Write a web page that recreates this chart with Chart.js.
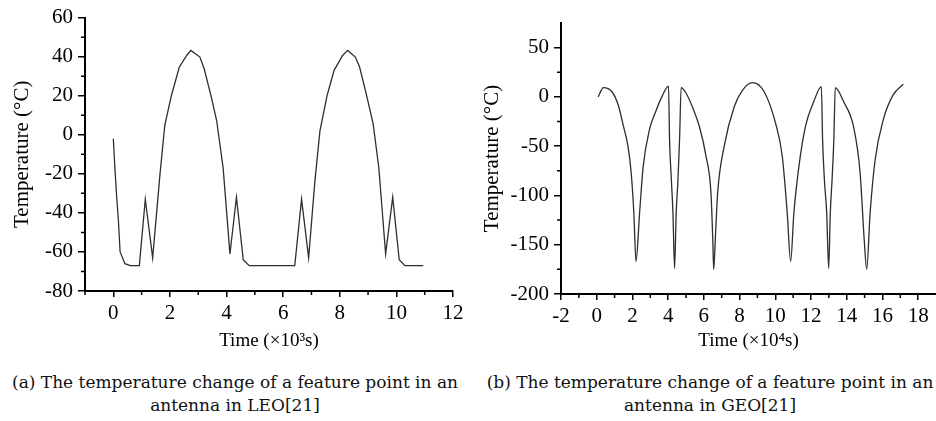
<!DOCTYPE html>
<html>
<head>
<meta charset="utf-8">
<script src="https://cdn.jsdelivr.net/npm/chart.js@4/dist/chart.umd.min.js"></script>
<style>
  body { margin: 0; background: #fff; }
  #wrap { position: relative; width: 936px; height: 421px; overflow: hidden; }
  .box { position: absolute; top: 0; height: 360px; }
  .cap { position: absolute; top: 371px; font: 17px "DejaVu Serif", serif; line-height: 23px; color: #111; text-align: center; white-space: nowrap; }
</style>
</head>
<body>
<div id="wrap">
  <div class="box" style="left:0;width:470px"><canvas id="chartLEO"></canvas></div>
  <div class="box" style="left:470px;width:466px"><canvas id="chartGEO"></canvas></div>
  <div class="cap" style="left:0;width:470px">(a) The temperature change of a feature point in an<br>antenna in LEO[21]</div>
  <div class="cap" style="left:482px;width:456px">(b) The temperature change of a feature point in an<br>antenna in GEO[21]</div>
</div>
<script>
// LEO, time in 10^3 s
const timeLEO = [0, 0.06, 0.12, 0.18, 0.24, 0.41, 0.6, 0.92, 1.13, 1.39, 1.65, 1.82, 2.05, 2.33, 2.59, 2.74, 3.06, 3.21, 3.45, 3.65, 3.88, 4.12, 4.35, 4.59, 4.8,
  6.41, 6.65, 6.9, 7.12, 7.3, 7.55, 7.8, 8.1, 8.28, 8.55, 8.7, 8.95, 9.18, 9.38, 9.62, 9.87, 10.1, 10.3, 10.95];
const tempLEO = [-2, -18, -32, -44, -60, -66, -67, -67, -33, -63, -20, 5, 20, 34.6, 40.6, 43.2, 39.8, 33.8, 20, 7.3, -17, -61, -32, -64, -67,
  -67, -33, -63, -24, 2, 20, 33, 40.6, 43.2, 39.8, 34.7, 20, 5.6, -17, -61, -32, -64, -67, -67];

// GEO, time in 10^4 s
const timeGEO = [0.08, 0.38, 0.84, 1.2, 1.5, 1.75, 1.93, 2.08, 2.2, 2.4, 2.6, 2.97, 3.3, 3.62, 4.02, 4.08, 4.18, 4.27, 4.36, 4.45, 4.55, 4.64, 4.73,
  5.0, 5.4, 5.75, 6.12, 6.4, 6.5, 6.55, 6.64, 6.77, 7.14, 7.7, 8.17, 8.72, 9.37, 10.02, 10.39, 10.67, 10.86, 11.04, 11.32, 11.69, 12.15, 12.58,
  12.65, 12.75, 12.88, 12.99, 13.08, 13.18, 13.28, 13.36, 13.83, 14.38, 14.75, 14.98, 15.12, 15.31, 15.59, 16.05, 16.6, 17.17];
const tempGEO = [0, 9.5, 5.5, -8, -30, -50, -77, -118, -167, -118, -71, -32, -15, -1, 11, -44, -84, -118, -174, -118, -84, -43, 9.5,
  4, -12, -30, -60, -98, -145, -175, -145, -98, -50, -10, 7, 14.5, 5.5, -27, -60, -118, -167, -118, -71, -30, -5, 10.5,
  -44, -84, -118, -174, -118, -84, -43, 9.5, -5, -30, -77, -145, -175, -118, -64, -23, 2, 13];

const xTicksLEO = [0, 2, 4, 6, 8, 10, 12];
const xMinorLEO = [-1, 1, 3, 5, 7, 9, 11];
const yTicksLEO = [-80, -60, -40, -20, 0, 20, 40, 60];
const yMinorLEO = [-70, -50, -30, -10, 10, 30, 50];

const xTicksGEO = [-2, 0, 2, 4, 6, 8, 10, 12, 14, 16, 18];
const xMinorGEO = [-1, 1, 3, 5, 7, 9, 11, 13, 15, 17];
const yTicksGEO = [-200, -150, -100, -50, 0, 50];
const yMinorGEO = [-175, -125, -75, -25, 25];

const serif = '"Liberation Serif", "Times New Roman", serif';

// short in-between ticks, same look as the main ones
const minorTicks = {
  id: 'minorTicks',
  afterDraw(chart, args, opts) {
    const {ctx, scales: {x, y}} = chart;
    ctx.save();
    ctx.strokeStyle = '#000';
    ctx.lineWidth = 1.5;
    ctx.beginPath();
    opts.x.forEach(v => {
      const px = x.getPixelForValue(v);
      ctx.moveTo(px, x.top);
      ctx.lineTo(px, x.top + 4);
    });
    opts.y.forEach(v => {
      const py = y.getPixelForValue(v);
      ctx.moveTo(y.right, py);
      ctx.lineTo(y.right - 4, py);
    });
    ctx.stroke();
    ctx.restore();
  }
};

function makeConfig(times, temps, p) {
  return {
    type: 'line',
    data: {
      datasets: [{
        data: times.map((t, i) => ({x: t, y: temps[i]})),
        borderColor: '#2e2e2e',
        borderWidth: 1.3,
        pointRadius: 0,
        tension: 0,
        cubicInterpolationMode: p.smooth ? 'monotone' : 'default',
        fill: false
      }]
    },
    options: {
      responsive: true,
      maintainAspectRatio: false,
      animation: false,
      layout: { padding: { top: p.top, right: p.right, left: 0, bottom: 0 } },
      plugins: {
        legend: { display: false },
        tooltip: { enabled: false },
        minorTicks: { x: p.xMinor, y: p.yMinor }
      },
      scales: {
        x: {
          type: 'linear',
          min: p.xMin,
          max: p.xMax,
          afterBuildTicks: s => { s.ticks = p.xTicks.map(v => ({value: v})); },
          afterFit: s => { s.height = p.xHeight; },
          border: { display: true, color: '#000', width: 2 },
          grid: { drawOnChartArea: false, drawTicks: true, tickLength: 6, color: '#000', lineWidth: 1.5 },
          ticks: { color: '#000', padding: 4, maxRotation: 0, autoSkip: false, font: { family: serif, size: 21 } },
          title: { display: true, text: p.xTitle, color: '#000', padding: { top: 0, bottom: 8 }, font: { family: serif, size: 19 } }
        },
        y: {
          min: p.yMin,
          max: p.yMax,
          afterBuildTicks: s => { s.ticks = p.yTicks.map(v => ({value: v})); },
          afterFit: s => { s.width = p.yWidth; },
          border: { display: true, color: '#000', width: 2 },
          grid: { drawOnChartArea: false, drawTicks: true, tickLength: 7, color: '#000', lineWidth: 1.5 },
          ticks: { color: '#000', padding: 5, autoSkip: false, font: { family: serif, size: 21 } },
          title: { display: true, text: 'Temperature (°C)', color: '#000', padding: { top: 10, bottom: 0 }, font: { family: serif, size: 21 } }
        }
      }
    },
    plugins: [minorTicks]
  };
}

const chartLEO = new Chart(document.getElementById('chartLEO'), makeConfig(timeLEO, tempLEO, {
  top: 16, right: 17, xHeight: 69, yWidth: 85, smooth: false,
  xMin: -1, xMax: 12, yMin: -80, yMax: 60,
  xTicks: xTicksLEO, xMinor: xMinorLEO, yTicks: yTicksLEO, yMinor: yMinorLEO,
  xTitle: 'Time (×10³s)'
}));

const chartGEO = new Chart(document.getElementById('chartGEO'), makeConfig(timeGEO, tempGEO, {
  top: 23, right: 0, xHeight: 66, yWidth: 91, smooth: true,
  xMin: -2, xMax: 19, yMin: -200, yMax: 75,
  xTicks: xTicksGEO, xMinor: xMinorGEO, yTicks: yTicksGEO, yMinor: yMinorGEO,
  xTitle: 'Time (×10⁴s)'
}));
</script>
</body>
</html>
